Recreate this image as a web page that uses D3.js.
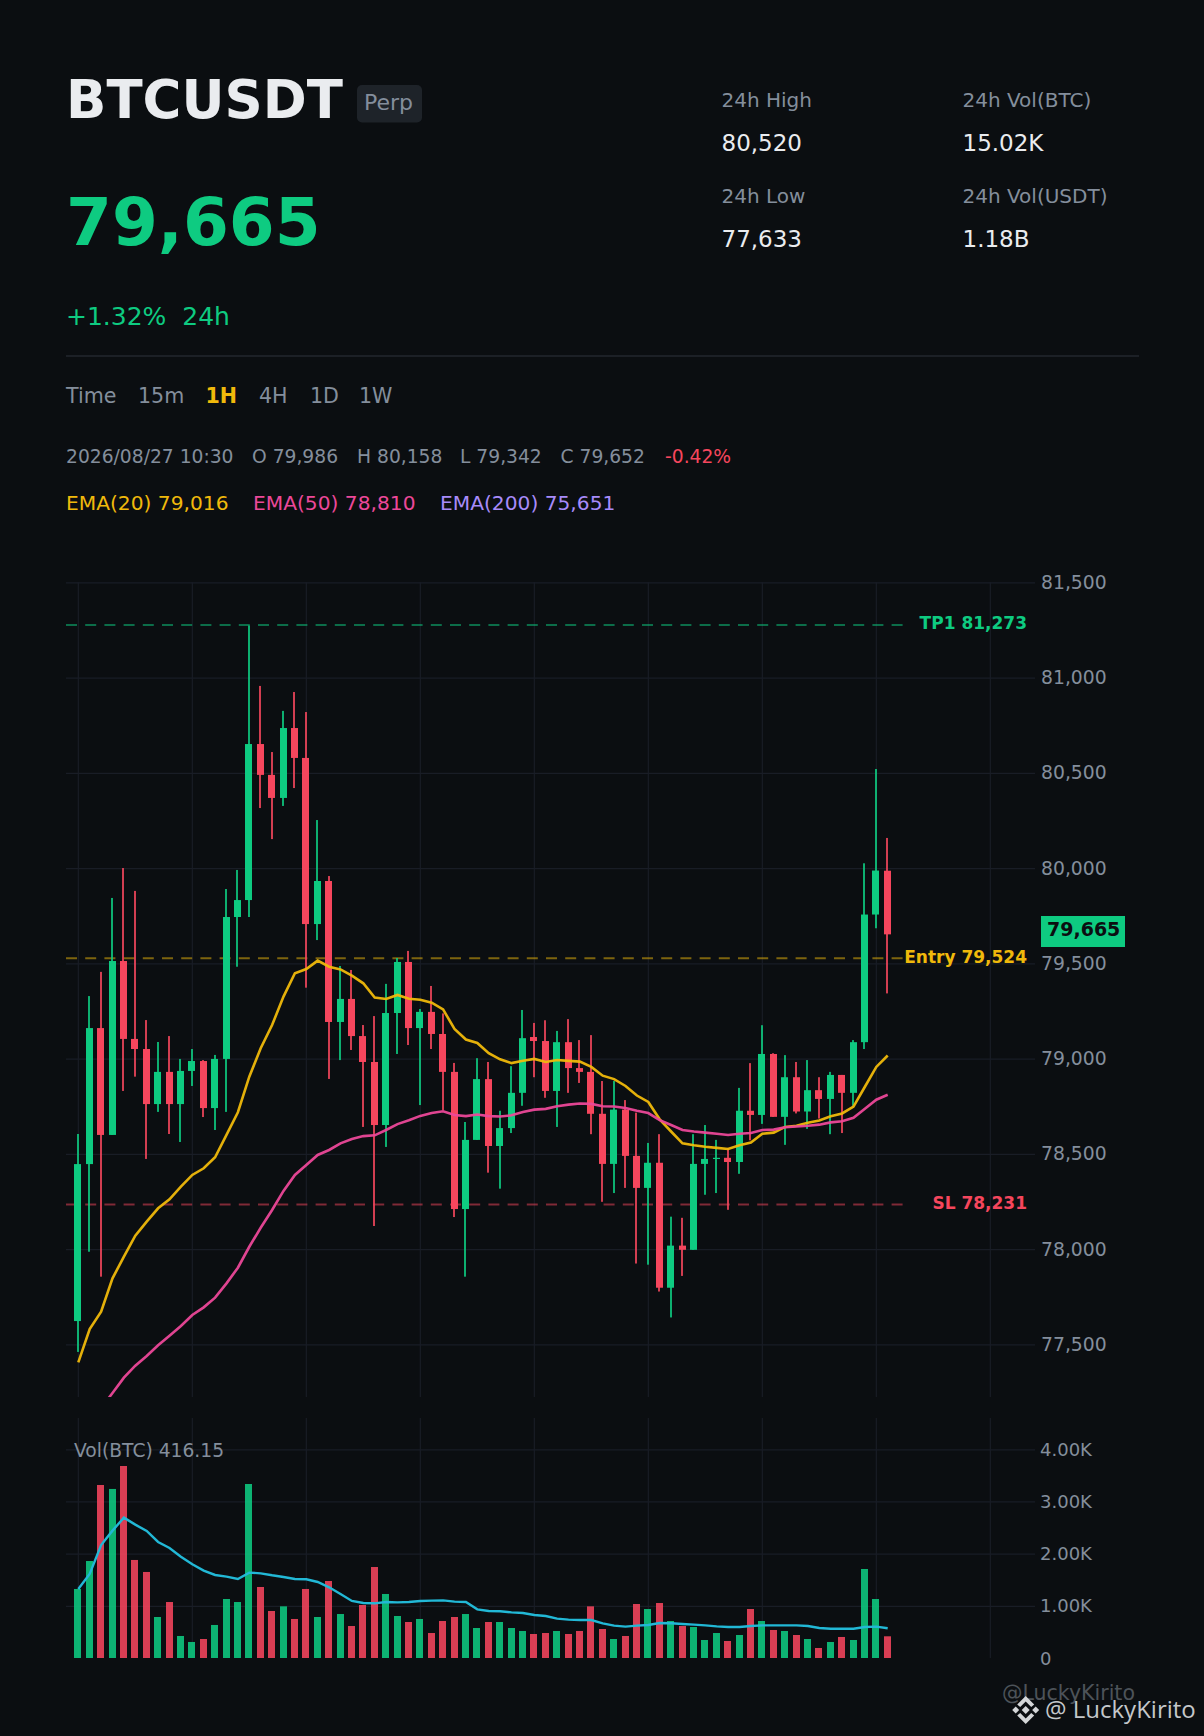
<!DOCTYPE html>
<html>
<head>
<meta charset="utf-8">
<script src="https://cdn.jsdelivr.net/npm/d3@7"></script>
<style>
    html,body{margin:0;padding:0;background:#0b0e11;}
    svg{display:block;}
    text{font-family:"DejaVu Sans",sans-serif;}
</style>
</head>
<body>
<svg id="chart" width="1204" height="1736"></svg>
<script>
// candles
var opens =[77622,78446,79160,78599,79512,79103,79050,78761,78930,78761,78935,78987,78740,78998,79743,79832,80651,80489,80368,80735,80578,79706,79932,79192,79313,79118,78982,78651,79239,79507,79160,79245,79129,78930,78210,78573,78892,78541,78635,78820,79113,79092,78830,79086,78950,78930,78710,78447,78732,78489,78321,78453,77797,78018,77996,78447,78473,78479,78457,78726,78704,79024,78694,78902,78722,78834,78788,78914,78820,79086,79756,79986];
var closes=[78446,79160,78599,79512,79103,79050,78761,78930,78761,78935,78987,78740,78998,79743,79832,80651,80489,80368,80735,80578,79706,79932,79192,79313,79118,78982,78651,79239,79507,79160,79245,79129,78930,78210,78573,78892,78541,78635,78820,79107,79092,78830,79086,78950,78930,78710,78447,78732,78489,78321,78453,77797,78018,77996,78447,78473,78479,78457,78726,78704,79024,78694,78902,78722,78834,78788,78914,78820,79086,79756,79987,79652];
var highs =[78604,79328,79455,79843,80000,79880,79202,79087,79118,78998,79050,78992,79019,79890,79990,81273,80956,80609,80825,80924,80819,80252,79958,79486,79465,79176,79223,79392,79528,79565,79260,79381,79237,78977,78667,79002,78982,78726,78960,79255,79187,79201,79145,79207,79097,79123,78882,78882,78782,78716,78557,78603,78170,78164,78603,78651,78573,78531,78846,78976,79175,79028,79018,78982,78992,78902,78930,78914,79097,80025,80520,80158];
var lows  =[77460,77986,77855,78599,78830,78905,78473,78720,78604,78562,78856,78693,78625,78720,79482,79743,80315,80152,80326,80420,79372,79622,78893,78992,79045,78641,78121,78536,79024,79071,78756,79050,78730,78168,77855,78573,78401,78317,78609,78752,78902,78794,78641,78820,78872,78603,78248,78294,78321,77924,77918,77777,77641,77859,77996,78285,78294,78206,78395,78571,78657,78694,78547,78712,78631,78685,78603,78609,78752,79050,79684,79342];

var ema20=[77405,77580,77671,77846,77960,78070,78144,78214,78261,78328,78389,78424,78482,78599,78718,78905,79054,79176,79325,79448,79470,79514,79482,79468,79435,79395,79320,79313,79334,79314,79309,79293,79258,79155,79100,79082,79028,78996,78976,78988,78998,78982,78992,78988,78984,78956,78910,78892,78856,78806,78772,78681,78617,78555,78545,78537,78531,78525,78545,78559,78605,78611,78641,78647,78663,78675,78697,78712,78748,78852,78956,79016];
// first two candles of EMA50 are below the pane, so the line only starts at the third
var ema50=[null,null,77166,77244,77325,77388,77439,77495,77545,77596,77654,77694,77745,77820,77902,78012,78112,78205,78305,78389,78441,78494,78520,78555,78578,78593,78597,78625,78656,78676,78699,78714,78723,78704,78698,78706,78698,78696,78702,78720,78732,78736,78750,78758,78764,78762,78750,78748,78740,78726,78714,78677,78651,78625,78617,78611,78605,78599,78605,78609,78625,78627,78639,78643,78647,78653,78665,78671,78689,78736,78784,78810];

var volumes=[1323,1859,3316,3240,3680,1879,1649,786,1073,422,307,364,633,1131,1073,3335,1361,901,990,748,1323,786,1476,843,613,1016,1744,1227,805,690,748,479,709,786,843,575,690,690,575,518,460,479,518,460,518,990,556,364,422,1035,939,1054,709,613,594,345,479,326,441,939,709,537,518,441,364,192,307,403,345,1706,1131,416];
var volMa=[1323,1610,2166,2441,2690,2556,2435,2224,2109,1942,1795,1674,1591,1559,1514,1636,1623,1585,1553,1514,1508,1457,1355,1227,1093,1054,1048,1073,1067,1073,1093,1099,1105,1080,1073,933,901,895,875,863,824,805,754,735,728,728,665,620,601,620,633,671,665,652,639,626,607,594,594,613,626,626,626,626,613,575,562,562,562,594,601,569];

var priceTicks=[77500,78000,78500,79000,79500,80000,80500,81000,81500];
var volTicks=[1000,2000,3000,4000];
var volLabelTicks=[0,1000,2000,3000,4000];
var gridCandles=[0,10,20,30,40,50,60,70,80];

var levelNames=["TP1","Entry","SL"];
var levelValues=[81273,79524,78231];
var levelColors=["#0ecb81","#f0b90b","#f6465d"];

var statLabels=["24h High","24h Vol(BTC)","24h Low","24h Vol(USDT)"];
var statValues=["80,520","15.02K","77,633","1.18B"];
var timeLabels=["Time","15m","1H","4H","1D","1W"];
var timeX=[66,138,205.5,259,310,359];
var ohlcLabels=["2026/08/27 10:30","O 79,986","H 80,158","L 79,342","C 79,652","-0.42%"];
var ohlcX=[66,252,357,460,560.5,665];
var emaLabels=["EMA(20) 79,016","EMA(50) 78,810","EMA(200) 75,651"];
var emaX=[66,253,440];
var emaColors=["#f0b90b","#ec4899","#a78bfa"];

var lastPrice=79665;
var colors={bg:"#0b0e11",up:"#0ecb81",down:"#f6465d",text:"#848e9c",grid:"#191d26"};

var space={left:66,right:1035,priceTop:582.3,priceBottom:1344.3,paneBottom:1397,volTop:1418,volZero:1658,volMax:1449.3};

var svg=d3.select("#chart");
svg.append("rect").attr("width",1204).attr("height",1736).attr("fill",colors.bg);

var xScale=d3.scaleLinear().domain([0,10]).range([78.3,192.3]);
var yScale=d3.scaleLinear().domain([81500,77500]).range([space.priceTop,space.priceBottom]);
var volScale=d3.scaleLinear().domain([0,4000]).range([space.volZero,space.volMax]);

function addText(x,y,txt,size,color,weight){
    return svg.append("text")
        .attr("x",x).attr("y",y)
        .attr("font-size",size)
        .attr("font-weight",weight||"normal")
        .attr("fill",color)
        .text(txt);
}

//header
addText(66,118,"BTCUSDT",53,"#eaecef","bold");
svg.append("rect").attr("x",357).attr("y",85).attr("width",65).attr("height",37.5).attr("rx",5).attr("fill","#1e2329");
addText(364,110,"Perp",22,colors.text);
addText(66,245,"79,665",66,colors.up,"bold");
addText(66,325,"+1.32%  24h",25,colors.up).style("white-space","pre");

statLabels.forEach(function (d,i) {
    var row=i<2?0:1;
    var x=i%2==0?721.5:962.5;
    addText(x,107+row*96,d,20,colors.text);
    addText(x,151+row*96,statValues[i],23,"#eaecef");
});

svg.append("line").attr("x1",66).attr("x2",1139).attr("y1",356).attr("y2",356).attr("stroke","#23272e").attr("stroke-width",1.5);

timeLabels.forEach(function (d,i) {
    var on=d=="1H";
    addText(timeX[i],403,d,20.6,on?"#f0b90b":colors.text,on?"bold":"normal");
});
ohlcLabels.forEach(function (d,i) {
    addText(ohlcX[i],463,d,18.7,i==5?colors.down:colors.text);
});
emaLabels.forEach(function (d,i) {
    addText(emaX[i],510,d,20.2,emaColors[i]);
});

//grids
var gridG=svg.append("g");
gridG.selectAll(".vgridP").data(gridCandles).enter().append("line")
    .attr("x1",xScale).attr("x2",xScale)
    .attr("y1",space.priceTop).attr("y2",space.paneBottom)
    .attr("stroke",colors.grid).attr("stroke-width",1.2);
gridG.selectAll(".vgridV").data(gridCandles).enter().append("line")
    .attr("x1",xScale).attr("x2",xScale)
    .attr("y1",space.volTop).attr("y2",space.volZero)
    .attr("stroke",colors.grid).attr("stroke-width",1.2);

//price axis, ticks double as the grid
var priceAxis=d3.axisRight(yScale).tickValues(priceTicks).tickFormat(d3.format(",")).tickSize(space.right-space.left).tickPadding(6);
var priceAxisG=svg.append("g").attr("transform","translate("+space.left+",0)").call(priceAxis);
var volAxis=d3.axisRight(volScale).tickValues(volTicks).tickFormat(function (d) {return (d/1000).toFixed(2)+"K"}).tickSize(space.right-space.left).tickPadding(5);
var volAxisG=svg.append("g").attr("transform","translate("+space.left+",0)").call(volAxis);
[priceAxisG,volAxisG].forEach(function (g) {
    g.select(".domain").remove();
    g.selectAll(".tick line").attr("stroke",colors.grid).attr("stroke-width",1.2);
    g.selectAll(".tick text").attr("fill",colors.text).attr("font-size",18.8).attr("font-family","DejaVu Sans");
});
volAxisG.selectAll(".tick text").attr("font-size",18);
addText(1040,space.volZero+6.5,d3.format("d")(volLabelTicks[0]),18,colors.text);

//target lines sit under the candles
levelNames.forEach(function (d,i) {
    svg.append("line")
        .attr("x1",space.left).attr("x2",904)
        .attr("y1",yScale(levelValues[i])-0.5).attr("y2",yScale(levelValues[i])-0.5)
        .attr("stroke",levelColors[i]).attr("stroke-width",2).attr("stroke-opacity",0.5)
        .attr("stroke-dasharray","11 8.2");
    addText(1027,yScale(levelValues[i])+3.8,d+" "+d3.format(",")(levelValues[i]),17,levelColors[i],"bold")
        .attr("text-anchor","end");
});

//clip for the price pane
svg.append("clipPath").attr("id","priceClip").append("rect")
    .attr("x",space.left).attr("y",space.priceTop).attr("width",space.right-space.left).attr("height",space.paneBottom-space.priceTop);

var candleData=d3.range(opens.length).map(function (i) {
    return {i:i,o:opens[i],c:closes[i],h:highs[i],l:lows[i],v:volumes[i],up:closes[i]>=opens[i]};
});
var candleColor=function (d) {return d.up?colors.up:colors.down};

//candles
var candleG=svg.append("g").attr("clip-path","url(#priceClip)");
candleG.selectAll(".wick").data(candleData).enter().append("rect")
    .attr("class","wick")
    .attr("x",function (d) {return Math.floor(xScale(d.i)-1)})
    .attr("width",2)
    .attr("y",function (d) {return yScale(d.h)})
    .attr("height",function (d) {return yScale(d.l)-yScale(d.h)})
    .attr("fill",candleColor)
    .attr("fill-opacity",0.85);
candleG.selectAll(".body").data(candleData).enter().append("rect")
    .attr("class","body")
    .attr("x",function (d) {return Math.floor(xScale(d.i)-3.5)})
    .attr("width",7)
    .attr("y",function (d) {return yScale(Math.max(d.o,d.c))})
    .attr("height",function (d) {return Math.max(1.2,Math.abs(yScale(d.o)-yScale(d.c)))})
    .attr("fill",candleColor);

//ema lines
var priceLine=d3.line()
    .defined(function (d) {return d!=null})
    .x(function (d,i) {return xScale(i)})
    .y(function (d) {return yScale(d)});
candleG.append("path").attr("d",priceLine(ema20)).attr("fill","none").attr("stroke","#f0b90b").attr("stroke-width",2.6).attr("stroke-opacity",0.95);
candleG.append("path").attr("d",priceLine(ema50)).attr("fill","none").attr("stroke","#ec4899").attr("stroke-width",2.6).attr("stroke-opacity",0.95);

//last price tag
svg.append("rect").attr("x",1041).attr("y",916).attr("width",84).attr("height",31).attr("fill",colors.up);
addText(1047,936,d3.format(",")(lastPrice),19,colors.bg,"bold");

//volume
svg.append("g").selectAll("rect").data(candleData).enter().append("rect")
    .attr("x",function (d) {return Math.floor(xScale(d.i)-3.5)})
    .attr("width",7)
    .attr("y",function (d) {return volScale(d.v)})
    .attr("height",function (d) {return volScale(0)-volScale(d.v)})
    .attr("fill",candleColor)
    .attr("fill-opacity",0.88);
var volLine=d3.line().x(function (d,i) {return xScale(i)}).y(function (d) {return volScale(d)});
svg.append("path").attr("d",volLine(volMa)).attr("fill","none").attr("stroke","#22b8d6").attr("stroke-width",2.4);
addText(74,1457,"Vol(BTC) 416.15",18.7,colors.text);

//watermark
addText(1002,1700,"@LuckyKirito",20.5,"#4d5359");
var logo=svg.append("g").attr("transform","translate(1025.7,1710)").attr("fill","#d4d6d8");
logo.append("path").attr("d",d3.line()([[0,-4],[4,0],[0,4],[-4,0]])+"Z");
logo.append("path").attr("d",d3.line()([[-10,-3.5],[-6.5,0],[-10,3.5],[-13.5,0]])+"Z");
logo.append("path").attr("d",d3.line()([[10,-3.5],[13.5,0],[10,3.5],[6.5,0]])+"Z");
logo.append("path").attr("d",d3.line()([[0,-14],[8.5,-5.5],[5.5,-3],[0,-8.5],[-5.5,-3],[-8.5,-5.5]])+"Z");
logo.append("path").attr("d",d3.line()([[0,14],[8.5,5.5],[5.5,3],[0,8.5],[-5.5,3],[-8.5,5.5]])+"Z");
addText(1045,1718,"@ LuckyKirito",24,"#c4c7ca").style("font-family","'Open Sans'");
</script>
</body>
</html>
